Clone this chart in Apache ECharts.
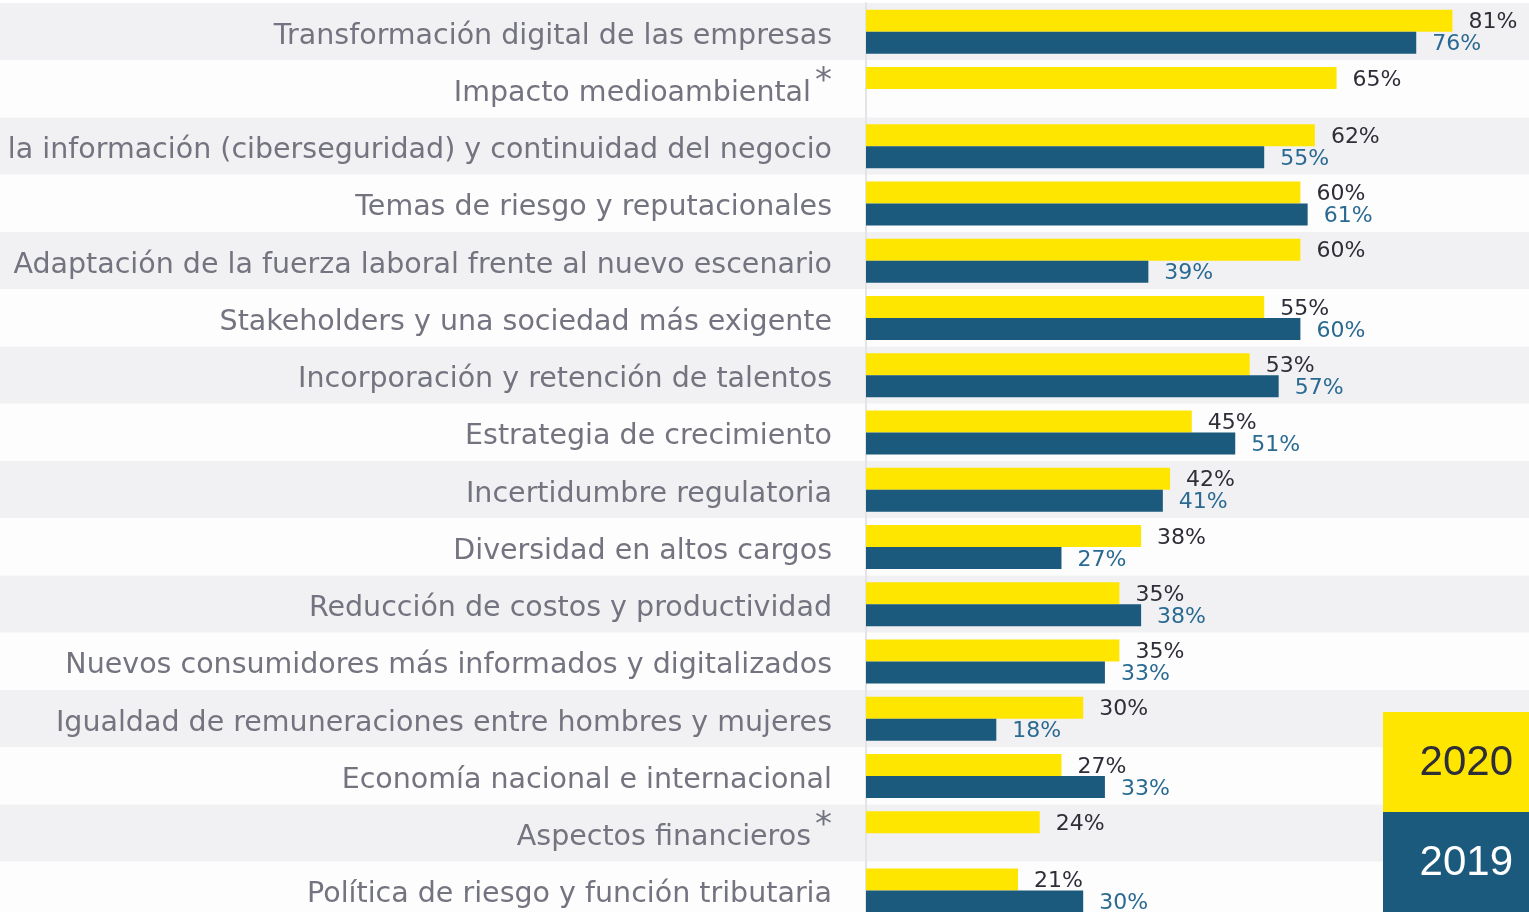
<!DOCTYPE html>
<html>
<head>
<meta charset="utf-8">
<script src="https://cdn.jsdelivr.net/npm/echarts@6/dist/echarts.min.js"></script>
<style>
    html, body { margin: 0; padding: 0; background: #ffffff; }
    #chart { width: 1529px; height: 912px; }
</style>
</head>
<body>
<div id="chart"></div>
<script>
// categories, top to bottom
const categories = [
    'Transformación digital de las empresas',
    'Impacto medioambiental*',
    'Seguridad de la información (ciberseguridad) y continuidad del negocio',
    'Temas de riesgo y reputacionales',
    'Adaptación de la fuerza laboral frente al nuevo escenario',
    'Stakeholders y una sociedad más exigente',
    'Incorporación y retención de talentos',
    'Estrategia de crecimiento',
    'Incertidumbre regulatoria',
    'Diversidad en altos cargos',
    'Reducción de costos y productividad',
    'Nuevos consumidores más informados y digitalizados',
    'Igualdad de remuneraciones entre hombres y mujeres',
    'Economía nacional e internacional',
    'Aspectos financieros*',
    'Política de riesgo y función tributaria',
]

const values2020 = [81, 65, 62, 60, 60, 55, 53, 45, 42, 38, 35, 35, 30, 27, 24, 21]
const values2019 = [76, null, 55, 61, 39, 60, 57, 51, 41, 27, 38, 33, 18, 33, null, 30]

const legendYears = ['2020', '2019']

const YELLOW = '#ffe600'
const BLUE = '#1b5a7c'
const LABEL_GRAY = '#747480'

const chart = echarts.init(document.getElementById('chart'))

const formatCategory = (value) => {
    if (value.endsWith('*')) {
        return value.slice(0, -1) + '{star|*}'
    }
    return value
}

chart.setOption({
    animation: false,
    backgroundColor: '#ffffff',
    grid: [
        // background stripes across the whole width
        { left: 0, right: 0, top: 3, height: 916, outerBoundsMode: 'none', containLabel: false },
        // bars
        { left: 866, width: 724, top: 3, height: 916, outerBoundsMode: 'none', containLabel: false },
    ],
    xAxis: [
        { gridIndex: 0, type: 'value', show: false, min: 0, max: 100 },
        { gridIndex: 1, type: 'value', show: false, min: 0, max: 100 },
    ],
    yAxis: [
        {
            gridIndex: 0,
            type: 'category',
            inverse: true,
            data: categories,
            axisLine: { show: false },
            axisTick: { show: false },
            axisLabel: { show: false },
            splitLine: { show: false },
            splitArea: {
                show: true,
                areaStyle: { color: ['#f1f1f3', '#fdfdfd'] },
            },
        },
        {
            gridIndex: 1,
            type: 'category',
            inverse: true,
            data: categories,
            axisLine: { show: true, lineStyle: { color: '#e4e4e8', width: 2 } },
            axisTick: { show: false },
            splitLine: { show: false },
            axisLabel: {
                margin: 34,
                padding: [9, 0, 0, 0],
                color: LABEL_GRAY,
                fontFamily: 'DejaVu Sans',
                fontSize: 28.5,
                formatter: formatCategory,
                rich: {
                    star: {
                        color: LABEL_GRAY,
                        fontFamily: 'DejaVu Sans',
                        fontSize: 34,
                        padding: [0, 0, 22, 4],
                    },
                },
            },
        },
    ],
    series: [
        {
            name: '2020',
            type: 'bar',
            xAxisIndex: 1,
            yAxisIndex: 1,
            barWidth: 22,
            barGap: '0%',
            data: values2020,
            itemStyle: { color: YELLOW },
            label: {
                show: true,
                position: 'right',
                distance: 16,
                offset: [0, 2],
                color: '#2e2e38',
                fontFamily: 'DejaVu Sans',
                fontSize: 22,
                formatter: '{c}%',
            },
        },
        {
            name: '2019',
            type: 'bar',
            xAxisIndex: 1,
            yAxisIndex: 1,
            barWidth: 22,
            barGap: '0%',
            data: values2019,
            itemStyle: { color: BLUE },
            label: {
                show: true,
                position: 'right',
                distance: 16,
                offset: [0, 2],
                color: '#2a6a92',
                fontFamily: 'DejaVu Sans',
                fontSize: 22,
                formatter: '{c}%',
            },
        },
    ],
    graphic: [
        { type: 'rect', z: 100, x: 1383, y: 712, shape: { width: 146, height: 100 }, style: { fill: YELLOW } },
        {
            type: 'text',
            z: 101,
            x: 1513,
            y: 763,
            style: {
                text: legendYears[0],
                fill: '#2e2e38',
                font: '42px "Liberation Sans", Arial, sans-serif',
                textAlign: 'right',
                textVerticalAlign: 'middle',
            },
        },
        { type: 'rect', z: 100, x: 1383, y: 812, shape: { width: 146, height: 100 }, style: { fill: BLUE } },
        {
            type: 'text',
            z: 101,
            x: 1513,
            y: 863,
            style: {
                text: legendYears[1],
                fill: '#ffffff',
                font: '42px "Liberation Sans", Arial, sans-serif',
                textAlign: 'right',
                textVerticalAlign: 'middle',
            },
        },
    ],
})
</script>
</body>
</html>
